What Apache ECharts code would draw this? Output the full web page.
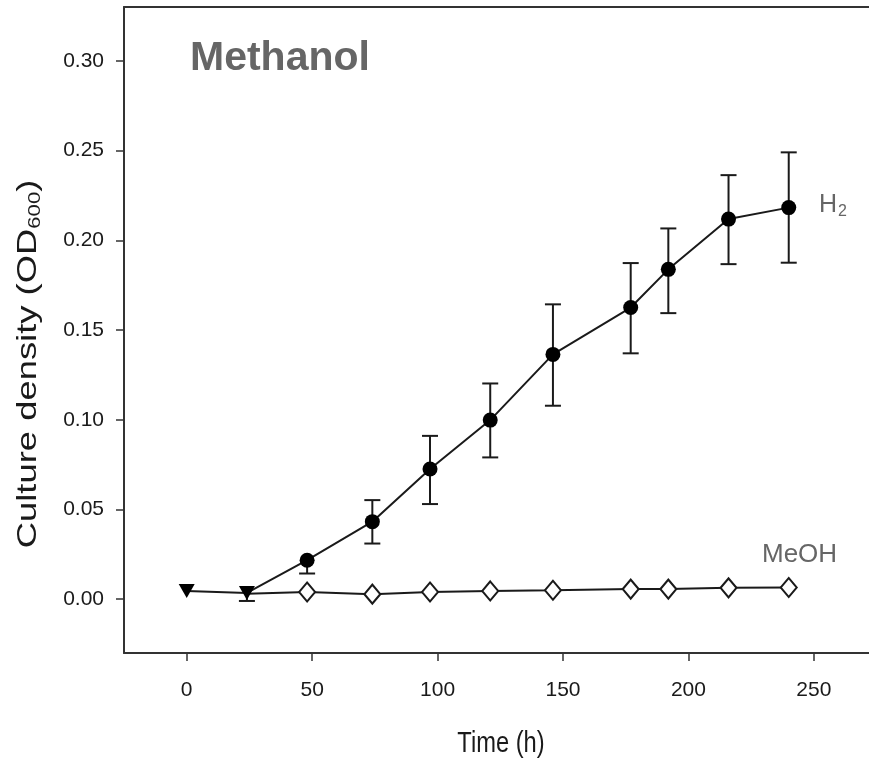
<!DOCTYPE html>
<html>
<head>
<meta charset="utf-8">
<script src="https://cdn.jsdelivr.net/npm/echarts@6/dist/echarts.min.js"></script>
<style>
  html, body { margin: 0; padding: 0; background: #fff; }
  #chart { width: 869px; height: 762px; }
</style>
</head>
<body>
<div id="chart"></div>
<script>
// 数据
const xTicks = [0, 50, 100, 150, 200, 250]
const yTicks = [0, 0.05, 0.10, 0.15, 0.20, 0.25, 0.30]

// 起始两点（倒三角）
const startTimes = [0, 24]
const startValues = [0.0045, 0.0035]

// H2（24 h 的点被三角形遮住）
const h2Times = [24, 48, 74, 97, 121, 146, 177, 192, 216, 240]
const h2Values = [0.0035, 0.0217, 0.0432, 0.0725, 0.0998, 0.1364, 0.1625, 0.1838, 0.2118, 0.2182]
const h2Upper = [0.0035, 0.0217, 0.0552, 0.0910, 0.1202, 0.1643, 0.1873, 0.2066, 0.2363, 0.2490]
const h2Lower = [-0.0010, 0.0143, 0.0310, 0.0530, 0.0790, 0.1078, 0.1370, 0.1594, 0.1867, 0.1875]

// MeOH（24 h 的点被三角形遮住）
const meohTimes = [24, 48, 74, 97, 121, 146, 177, 192, 216, 240]
const meohValues = [0.0030, 0.0040, 0.0028, 0.0040, 0.0046, 0.0050, 0.0056, 0.0056, 0.0063, 0.0065]

const FONT = '"Liberation Sans", Arial, sans-serif'
const INK = '#1a1a1a'

const chart = echarts.init(document.getElementById('chart'))

const zip = (xs, ys) => xs.map((x, i) => [x, ys[i]])
const hideFirst = arr => arr.map((v, i) => i === 0 ? {value: v, symbol: 'none'} : v)

chart.setOption({
  backgroundColor: '#fff',
  animation: false,
  grid: {left: 124, right: 0, top: 7, bottom: 109, outerBoundsMode: 'none', containLabel: false},
  xAxis: [{
    type: 'value', min: -25, max: 272,
    splitLine: {show: false},
    axisLine: {onZero: false, lineStyle: {color: '#333', width: 2}},
    axisTick: {inside: false, length: 8, lineStyle: {color: '#333', width: 1.5}, customValues: xTicks},
    axisLabel: {customValues: xTicks, color: INK, fontSize: 21, fontFamily: FONT, margin: 27}
  }, {
    type: 'value', min: -25, max: 272, position: 'top',
    splitLine: {show: false},
    axisLine: {onZero: false, lineStyle: {color: '#333', width: 2}},
    axisTick: {show: false}, axisLabel: {show: false}
  }],
  yAxis: {
    type: 'value', min: -0.03, max: 0.33,
    splitLine: {show: false},
    axisLine: {onZero: false, lineStyle: {color: '#333', width: 2}},
    axisTick: {length: 8, lineStyle: {color: '#333', width: 1.5}, customValues: yTicks},
    axisLabel: {
      customValues: yTicks, color: INK, fontSize: 21, fontFamily: FONT, margin: 20,
      formatter: v => v.toFixed(2)
    }
  },
  graphic: [
    {type: 'text', left: 190, top: 38, style: {text: 'Methanol', fill: '#666', font: `bold 41px ${FONT}`}},
    {
      type: 'text', left: 819, top: 191,
      style: {
        text: '{a|H}{s|2}',
        rich: {
          a: {fill: '#666', fontSize: 25, fontFamily: FONT, lineHeight: 30},
          s: {fill: '#666', fontSize: 16, fontFamily: FONT, lineHeight: 30, padding: [13, 0, 0, 1]}
        }
      }
    },
    {type: 'text', left: 762, top: 542, style: {text: 'MeOH', fill: '#666', font: `26px ${FONT}`}},
    // 坐标轴标题（原图文字被纵向拉伸，用 scale 模拟）
    {
      type: 'text', x: 501, y: 744, scaleX: 0.79,
      style: {text: 'Time (h)', fill: INK, font: `30px ${FONT}`, align: 'center', verticalAlign: 'middle'}
    },
    {
      type: 'text', x: 28, y: 364, rotation: Math.PI / 2, scaleX: 1.3,
      style: {
        text: '{a|Culture density (OD}{s|600}{a|)}',
        align: 'center', verticalAlign: 'middle',
        rich: {
          a: {fill: INK, fontSize: 28, fontFamily: FONT, lineHeight: 34},
          s: {fill: INK, fontSize: 17, fontFamily: FONT, lineHeight: 34, padding: [14, 0, 0, 0]}
        }
      }
    }
  ],
  series: [
    {
      name: 'MeOH', type: 'line',
      data: hideFirst(zip(meohTimes, meohValues)),
      symbol: 'diamond', symbolSize: [16, 19],
      lineStyle: {color: INK, width: 2},
      itemStyle: {color: '#fff', borderColor: INK, borderWidth: 2},
      z: 2
    },
    {
      name: 'H2 error', type: 'custom',
      data: h2Times.map((t, i) => [t, h2Upper[i], h2Lower[i], h2Values[i]]),
      renderItem: (params, api) => {
        const x = api.value(0)
        const top = api.coord([x, api.value(1)])
        const bot = api.coord([x, api.value(2)])
        const mid = api.coord([x, api.value(3)])
        const half = 8
        const style = {stroke: INK, lineWidth: 2}
        const children = [{type: 'line', shape: {x1: top[0], y1: top[1], x2: bot[0], y2: bot[1]}, style}]
        if (top[1] < mid[1] - 1) children.push({type: 'line', shape: {x1: top[0] - half, y1: top[1], x2: top[0] + half, y2: top[1]}, style})
        if (bot[1] > mid[1] + 1) children.push({type: 'line', shape: {x1: bot[0] - half, y1: bot[1], x2: bot[0] + half, y2: bot[1]}, style})
        return {type: 'group', children}
      },
      z: 3
    },
    {
      name: 'H2', type: 'line',
      data: hideFirst(zip(h2Times, h2Values)),
      symbol: 'circle', symbolSize: 15,
      lineStyle: {color: INK, width: 2},
      itemStyle: {color: '#000'},
      z: 4
    },
    {
      name: 'start', type: 'line', data: zip(startTimes, startValues),
      symbol: 'triangle', symbolRotate: 180, symbolSize: [16, 14],
      lineStyle: {color: INK, width: 2},
      itemStyle: {color: '#000'},
      z: 5
    }
  ]
})
</script>
</body>
</html>
